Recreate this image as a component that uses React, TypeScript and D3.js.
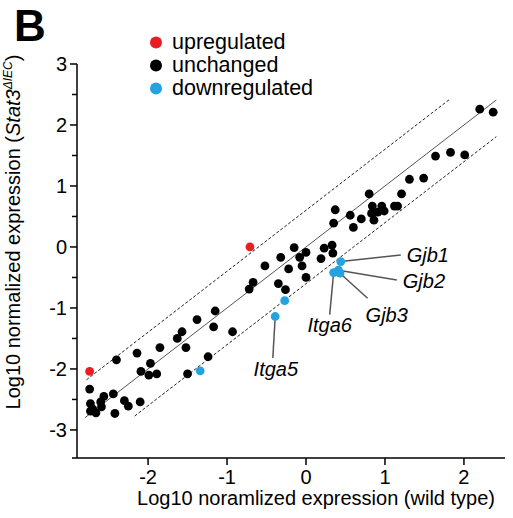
import React from "react";
import * as d3 from "d3";

// log10 normalized expression: [wild type, Stat3 ΔIEC]
const unchanged: [number, number][] = [
  [-2.74, -2.33], [-2.56, -2.45], [-2.44, -2.41], [-2.73, -2.57], [-2.6, -2.54],
  [-2.59, -2.62], [-2.73, -2.69], [-2.66, -2.72], [-2.7, -2.66], [-2.42, -2.73],
  [-2.3, -2.52], [-2.25, -2.61], [-2.1, -2.54], [-2.4, -1.85], [-2.14, -1.74],
  [-1.85, -1.65], [-1.63, -1.5], [-1.57, -1.39], [-1.97, -1.91], [-2.09, -2.04],
  [-1.99, -2.1], [-1.89, -2.08], [-1.52, -1.65], [-1.5, -2.08], [-1.38, -1.19],
  [-1.17, -1.31], [-1.15, -1.05], [-0.93, -1.39], [-1.24, -1.8], [-0.67, -0.58],
  [-0.72, -0.69], [-0.52, -0.31], [-0.35, -0.6], [-0.26, -0.7], [-0.32, -0.17],
  [-0.15, -0.01], [-0.08, -0.17], [0.0, -0.09], [-0.22, -0.36], [-0.05, -0.31],
  [0.0, -0.5], [0.23, -0.02], [0.33, 0.03], [0.34, -0.1], [0.19, -0.19],
  [0.37, 0.61], [0.35, 0.39], [0.56, 0.52], [0.6, 0.32], [0.7, 0.46],
  [0.8, 0.87], [0.84, 0.67], [0.83, 0.55], [0.86, 0.44], [0.91, 0.57],
  [0.96, 0.67], [0.99, 0.59], [1.12, 0.67], [1.16, 0.67], [1.21, 0.87],
  [1.31, 1.11], [1.49, 1.13], [1.64, 1.49], [1.83, 1.55], [2.01, 1.51],
  [2.2, 2.26], [2.37, 2.21],
];
const upregulated: [number, number][] = [[-2.74, -2.04], [-0.71, 0.0]];
const downregulated: [number, number][] = [
  [-1.34, -2.03], [-0.39, -1.14], [-0.27, -0.88], [0.44, -0.24],
  [0.41, -0.38], [0.35, -0.42], [0.43, -0.43],
];

// gene labels: point index in downregulated, leader end (data units)
const geneNames = ["Itga5", "Gjb1", "Gjb2", "Itga6", "Gjb3"];
const genePoint = [1, 3, 4, 5, 6];
const leaderEnd: [number, number][] = [
  [-0.42, -1.82], [1.2, -0.13], [1.15, -0.54], [0.3, -1.11], [0.78, -0.84],
];

const legendLabels = ["upregulated", "unchanged", "downregulated"];
const xTicks = [-2, -1, 0, 1, 2];
const yTicks = [-3, -2, -1, 0, 1, 2, 3];
const yMinor = [-2.5, -1.5, -0.5, 0.5, 1.5, 2.5];
const foldOffset = Math.log10(4);

export default function App() {
  const x = d3.scaleLinear().domain([-2.9, 2.52]).range([77, 505]);
  const y = d3.scaleLinear().domain([-3.46, 3]).range([458, 64]);
  const colors = ["#ec1c24", "#000000", "#25a3e0"];
  const font = "'Liberation Sans', Arial, sans-serif";

  // text placement relative to leader end, px
  const labelPos = [
    { dx: 3, dy: 18, anchor: "middle" },
    { dx: 6, dy: 7, anchor: "start" },
    { dx: 6, dy: 8, anchor: "start" },
    { dx: 0, dy: 17, anchor: "middle" },
    { dx: -2, dy: 24, anchor: "start" },
  ];

  const diag = (off: number, x0: number, x1: number) =>
    d3.line<number>().x((d) => x(d)).y((d) => y(d + off))([x0, x1]) || "";

  return (
    <svg
      width={513}
      height={518}
      style={{ position: "absolute", left: 0, top: 0, background: "#fff" }}
      fontFamily={font}
    >
      <text x={14} y={41} fontSize={44} fontWeight="bold">B</text>

      {/* legend */}
      {legendLabels.map((l, i) => (
        <g key={l}>
          <circle cx={156} cy={42.5 + i * 23} r={6} fill={colors[i]} />
          <text x={172} y={49 + i * 23} fontSize={21.5}>{l}</text>
        </g>
      ))}

      {/* axes */}
      <line x1={77} x2={77} y1={y(3)} y2={458} stroke="#000" strokeWidth={1.5} />
      <line x1={72} x2={505} y1={458} y2={458} stroke="#000" strokeWidth={1.5} />
      {yTicks.map((t) => (
        <g key={t}>
          <line x1={70} x2={77} y1={y(t)} y2={y(t)} stroke="#000" strokeWidth={1.5} />
          <text x={67} y={y(t) + 7} fontSize={20} textAnchor="end">{t}</text>
        </g>
      ))}
      {yMinor.map((t) => (
        <line key={t} x1={72} x2={77} y1={y(t)} y2={y(t)} stroke="#000" strokeWidth={1.5} />
      ))}
      {xTicks.map((t) => (
        <g key={t}>
          <line x1={x(t)} x2={x(t)} y1={458} y2={465} stroke="#000" strokeWidth={1.5} />
          <text x={x(t)} y={484} fontSize={20} textAnchor="middle">{t}</text>
        </g>
      ))}
      <text x={316} y={505} fontSize={20} textAnchor="middle">
        Log10 noramlized expression (wild type)
      </text>
      <text transform="translate(20,232) rotate(-90)" fontSize={20} textAnchor="middle">
        Log10 normalized expression (
        <tspan fontStyle="italic">Stat3</tspan>
        <tspan fontStyle="italic" fontSize={12} dy={-8}>ΔIEC</tspan>
        <tspan dy={8}>)</tspan>
      </text>

      {/* reference lines */}
      <path d={diag(0, -2.8, 2.41)} stroke="#555" strokeWidth={1} fill="none" />
      <path d={diag(foldOffset, -2.78, 1.82)} stroke="#222" strokeWidth={1} strokeDasharray="3,2" fill="none" />
      <path d={diag(-foldOffset, -2.17, 2.41)} stroke="#222" strokeWidth={1} strokeDasharray="3,2" fill="none" />

      {/* leaders */}
      {geneNames.map((g, i) => {
        const p = downregulated[genePoint[i]];
        const e = leaderEnd[i];
        return (
          <g key={g}>
            <line x1={x(p[0])} y1={y(p[1])} x2={x(e[0])} y2={y(e[1])} stroke="#555" strokeWidth={1.5} />
            <text
              x={x(e[0]) + labelPos[i].dx}
              y={y(e[1]) + labelPos[i].dy}
              fontSize={20}
              fontStyle="italic"
              textAnchor={labelPos[i].anchor}
            >
              {g}
            </text>
          </g>
        );
      })}

      {/* points */}
      {unchanged.map((d, i) => (
        <circle key={"u" + i} cx={x(d[0])} cy={y(d[1])} r={4.4} fill={colors[1]} />
      ))}
      {upregulated.map((d, i) => (
        <circle key={"r" + i} cx={x(d[0])} cy={y(d[1])} r={4.4} fill={colors[0]} />
      ))}
      {downregulated.map((d, i) => (
        <circle key={"b" + i} cx={x(d[0])} cy={y(d[1])} r={4.4} fill={colors[2]} />
      ))}
    </svg>
  );
}
